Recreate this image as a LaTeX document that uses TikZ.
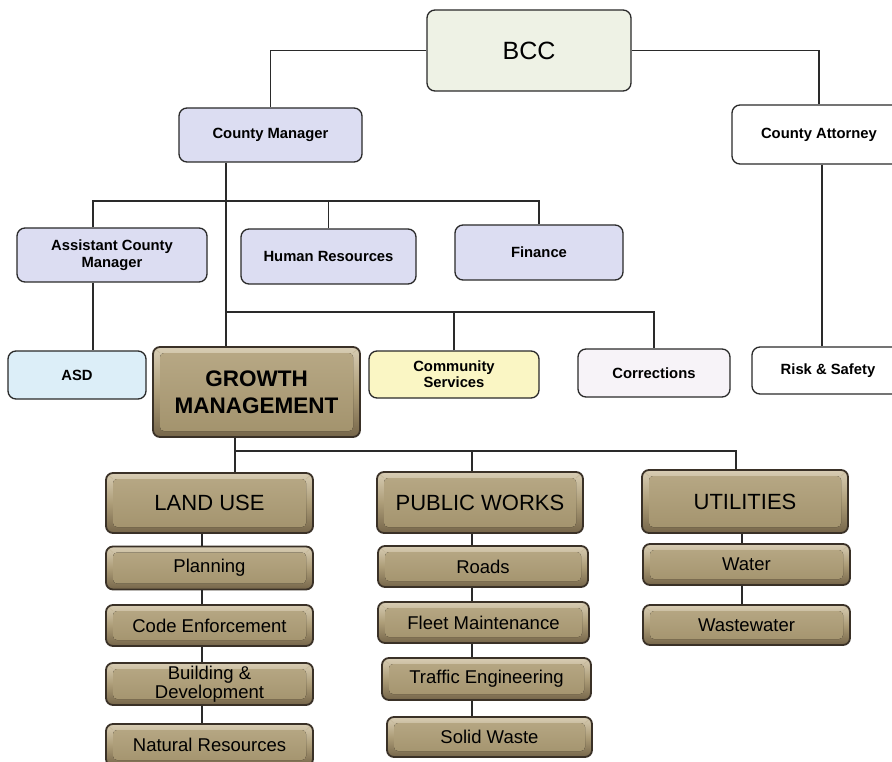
\documentclass[tikz,border=0pt]{standalone}
\usepackage{fontspec}
\setmainfont{Liberation Sans}
\definecolor{edge}{HTML}{2A2A2A}
\definecolor{bccfill}{HTML}{EEF2E5}
\definecolor{lav}{HTML}{DCDDF2}
\definecolor{asdfill}{HTML}{DCEEF8}
\definecolor{csfill}{HTML}{FAF6C4}
\definecolor{corfill}{HTML}{F7F3F8}
\definecolor{tandark}{HTML}{3A3127}
\definecolor{tanlight}{HTML}{D8CDB4}
\definecolor{tanmid}{HTML}{AD9D78}
\definecolor{tanlow}{HTML}{76664A}
\definecolor{tanface}{HTML}{B8A986}
\definecolor{tanface2}{HTML}{A2926C}
\tikzset{
  box/.style={rounded corners=8pt, draw=edge, line width=1.3pt, inner sep=0pt,
    align=center, text=black, font=\fontsize{14.8}{17}\selectfont\bfseries},
  tanbox/.style={rounded corners=7pt, draw=tandark, line width=1.8pt, inner sep=0pt,
    align=center, text=black,
    top color=tanlight, bottom color=tanlow, middle color=tanmid,
    path picture={
      \fill[rounded corners=4pt, top color=tanface, bottom color=tanface2]
        ([shift={(7pt,-6pt)}]path picture bounding box.north west) rectangle
        ([shift={(-7pt,6pt)}]path picture bounding box.south east);
      \draw[tanlight!60!tanmid, line width=0.8pt]
        (path picture bounding box.north west) -- ([shift={(7pt,-6pt)}]path picture bounding box.north west)
        (path picture bounding box.north east) -- ([shift={(-7pt,-6pt)}]path picture bounding box.north east);
    }},
  big/.style={font=\fontsize{22}{24}\selectfont},
  small/.style={font=\fontsize{18.5}{20}\selectfont},
  conn/.style={draw=edge, line width=1.2pt},
}
\begin{document}
\begin{tikzpicture}[x=1pt,y=-1pt]
\useasboundingbox (0,0) rectangle (892,762);
\clip (0,0) rectangle (892,762);
\fill[white] (0,0) rectangle (892,762);

% top levels
\node[box, fill=bccfill, minimum width=204pt, minimum height=81pt,
  font=\fontsize{25}{28}\selectfont] (bcc) at (529,50.5) {BCC};
\node[box, fill=lav, minimum width=183pt, minimum height=54pt] (cm) at (270.5,135) {County Manager};
\node[box, fill=white, minimum width=174pt, minimum height=59pt] (ca) at (819,134.5) {County Attorney};

\node[box, fill=lav, minimum width=190pt, minimum height=54pt,
  font=\fontsize{14.8}{17}\selectfont\bfseries] (acm) at (112,255) {Assistant County\\Manager};
\node[box, fill=lav, minimum width=175pt, minimum height=55pt] (hr) at (328.5,256.5) {Human Resources};
\node[box, fill=lav, minimum width=168pt, minimum height=55pt] (fin) at (539,252.5) {Finance};

\node[box, fill=asdfill, minimum width=138pt, minimum height=48pt] (asd) at (77,375) {ASD};
\node[tanbox, minimum width=207pt, minimum height=90pt,
  font=\fontsize{22.5}{27}\selectfont\bfseries] (gm) at (256.5,392) {GROWTH\\MANAGEMENT};
\node[box, fill=csfill, minimum width=170pt, minimum height=47pt,
  font=\fontsize{14.8}{16}\selectfont\bfseries] (cs) at (454,374.5) {Community\\Services};
\node[box, fill=corfill, minimum width=152pt, minimum height=48pt] (cor) at (654,373) {Corrections};
\node[box, fill=white, minimum width=152pt, minimum height=47pt] (rs) at (828,370.5) {Risk \& Safety};

% growth management departments
\node[tanbox, big, minimum width=207pt, minimum height=60pt] (lu) at (209.5,503) {LAND USE};
\node[tanbox, small, minimum width=207pt, minimum height=43pt] (pl) at (209.5,568) {Planning};
\node[tanbox, small, minimum width=207pt, minimum height=41pt] (ce) at (209.5,625.5) {Code Enforcement};
\node[tanbox, small, minimum width=207pt, minimum height=42pt] (bd) at (209.5,684) {Building \&\\[-1pt]Development};
\node[tanbox, small, minimum width=207pt, minimum height=42pt] (nr) at (209.5,745) {Natural Resources};

\node[tanbox, big, minimum width=206pt, minimum height=61pt] (pw) at (480,502.5) {PUBLIC WORKS};
\node[tanbox, small, minimum width=210pt, minimum height=41pt] (rd) at (483,566.5) {Roads};
\node[tanbox, small, minimum width=211pt, minimum height=41pt] (fm) at (483.5,622.5) {Fleet Maintenance};
\node[tanbox, small, minimum width=209pt, minimum height=42pt] (te) at (486.5,679) {Traffic Engineering};
\node[tanbox, small, minimum width=205pt, minimum height=40pt] (sw) at (489.5,737) {Solid Waste};

\node[tanbox, big, minimum width=206pt, minimum height=63pt] (ut) at (745,501.5) {UTILITIES};
\node[tanbox, small, minimum width=207pt, minimum height=41pt] (wa) at (746.5,564.5) {Water};
\node[tanbox, small, minimum width=207pt, minimum height=40pt] (ww) at (746.5,625) {Wastewater};

% helper coordinates
\coordinate (b1) at (93,201);
\coordinate (cmx) at (226,0);
\coordinate (b3) at (226,312);
\coordinate (rx) at (822,0);
\coordinate (gx) at (235,451);
\coordinate (ux) at (736,451);
\coordinate (px) at (472,451);
\coordinate (lx) at (202,0);
\coordinate (cx) at (472,0);
\coordinate (wx) at (742,0);

% connectors
\draw[conn] (bcc.west) -| (cm.north);
\draw[conn] (bcc.east) -| (ca.north);
\draw[conn] (acm.north -| b1) |- (fin.north |- b1) -- (fin.north);
\draw[conn] (hr.north) -- (hr.north |- b1);
\draw[conn] (cm.south -| cmx) -- (gm.north -| cmx);
\draw[conn] (b3) -| (cor.north);
\draw[conn] (cs.north) -- (cs.north |- b3);
\draw[conn] (acm.south -| b1) -- (asd.north -| b1);
\draw[conn] (ca.south -| rx) -- (rs.north -| rx);
\draw[conn] (gm.south -| gx) -- (lu.north -| gx);
\draw[conn] (gx) -- (ux) -- (ux |- ut.north);
\draw[conn] (px) -- (pw.north -| px);
\draw[conn] (lu.south -| lx) -- (pl.north -| lx);
\draw[conn] (pl.south -| lx) -- (ce.north -| lx);
\draw[conn] (ce.south -| lx) -- (bd.north -| lx);
\draw[conn] (bd.south -| lx) -- (nr.north -| lx);
\draw[conn] (pw.south -| cx) -- (rd.north -| cx);
\draw[conn] (rd.south -| cx) -- (fm.north -| cx);
\draw[conn] (fm.south -| cx) -- (te.north -| cx);
\draw[conn] (te.south -| cx) -- (sw.north -| cx);
\draw[conn] (ut.south -| wx) -- (wa.north -| wx);
\draw[conn] (wa.south -| wx) -- (ww.north -| wx);
\end{tikzpicture}
\end{document}
